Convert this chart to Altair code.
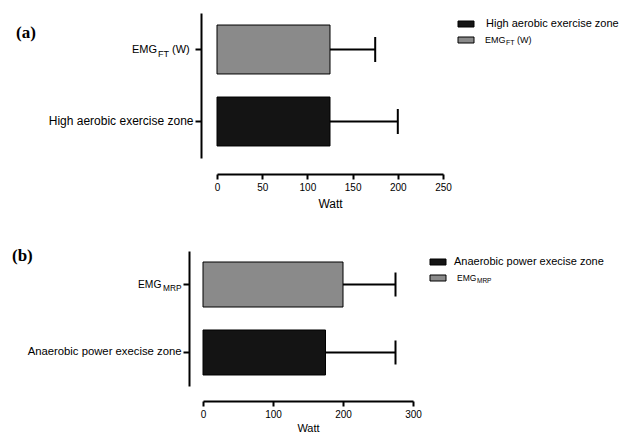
import altair as alt
import pandas as pd

# ---- data ----
a_cats = ["EMG_FT", "High aerobic exercise zone"]
a_means = [125, 125]
a_upper = [175, 200]
a_ticks = [0, 50, 100, 150, 200, 250]

b_cats = ["EMG_MRP", "Anaerobic power execise zone"]
b_means = [200, 175]
b_upper = [275, 275]
b_ticks = [0, 100, 200, 300]

fills = ["#8a8a8a", "#141414"]

SANS = "Liberation Sans"
SERIF = "Liberation Serif"

dfa = pd.DataFrame({"cat": a_cats, "mean": a_means, "upper": a_upper})
dfb = pd.DataFrame({"cat": b_cats, "mean": b_means, "upper": b_upper})


def one(txt):
    return pd.DataFrame({"t": [txt]})


def panel(df, cats, ticks, dom, rng, height, pin, pout, yoff, xoff, lab_fs, tick_fs,
          title_fs, title_pad, cap, sub_parts, letter, letter_x, letter_y, legend):
    yenc = alt.Y("cat:N", sort=cats,
                 scale=alt.Scale(domain=cats, paddingInner=pin, paddingOuter=pout),
                 axis=alt.Axis(title=None,
                               labelExpr=f"datum.value == '{cats[0]}' ? '' : datum.label",
                               domainWidth=2, domainColor="black", tickColor="black",
                               tickWidth=2, tickSize=6, offset=yoff, labelFontSize=lab_fs,
                               labelFont=SANS, labelColor="black", labelPadding=2))
    xscale = alt.Scale(domain=dom, range=rng, nice=False, zero=True)
    xenc = alt.X("mean:Q", scale=xscale,
                 axis=alt.Axis(values=ticks, title="Watt", offset=xoff, domainWidth=2,
                               domainColor="black", tickColor="black", tickWidth=2,
                               tickSize=5, labelFontSize=tick_fs, labelFont=SANS,
                               labelColor="black", labelPadding=3, titleFont=SANS,
                               titleFontSize=title_fs, titleFontWeight="normal",
                               titleColor="black", titlePadding=title_pad, grid=False,
                               labelFlush=False))
    base = alt.Chart(df)
    bars = base.mark_bar(stroke="black", strokeWidth=1).encode(
        x=xenc, y=yenc,
        color=alt.Color("cat:N", scale=alt.Scale(domain=cats, range=fills), legend=None))
    err = base.mark_rule(strokeWidth=2, color="black").encode(
        x=alt.X("mean:Q", scale=xscale), x2="upper:Q", y=alt.Y("cat:N", sort=cats))
    caps = base.mark_tick(thickness=2, size=cap, color="black", opacity=1).encode(
        x=alt.X("upper:Q", scale=xscale), y=alt.Y("cat:N", sort=cats))

    layers = [bars, err, caps]
    # custom y label with subscript for first category
    lab = base.transform_filter(alt.datum.cat == cats[0])
    main_t, sub_t, tail_t, xm, xs, xt = sub_parts
    layers.append(lab.mark_text(align="left", baseline="middle", font=SANS,
                                fontSize=lab_fs - 1, color="black").encode(
        x=alt.value(xm), y=alt.Y("cat:N", sort=cats), text=alt.value(main_t)))
    layers.append(lab.mark_text(align="left", baseline="middle", font=SANS,
                                fontSize=lab_fs - 3, color="black", dy=4).encode(
        x=alt.value(xs), y=alt.Y("cat:N", sort=cats), text=alt.value(sub_t)))
    if tail_t:
        layers.append(lab.mark_text(align="left", baseline="middle", font=SANS,
                                    fontSize=lab_fs - 1, color="black").encode(
            x=alt.value(xt), y=alt.Y("cat:N", sort=cats), text=alt.value(tail_t)))
    # panel letter
    layers.append(alt.Chart(one(letter)).mark_text(
        align="left", baseline="middle", font=SERIF, fontWeight="bold", fontSize=17,
        color="black").encode(x=alt.value(letter_x), y=alt.value(letter_y), text="t:N"))
    # manual legend
    (lx, ly1, ly2, ltx, lfs, l1, l2m, l2s, l2tail, l2x, l2sx, l2tx, mfs, sfs) = legend
    for yy, col in ((ly1, fills[1]), (ly2, fills[0])):
        layers.append(alt.Chart(one("s")).mark_rect(stroke="black", strokeWidth=1,
                                                    fill=col).encode(
            x=alt.value(lx), x2=alt.value(lx + 16), y=alt.value(yy - 3),
            y2=alt.value(yy + 3)))
    layers.append(alt.Chart(one(l1)).mark_text(
        align="left", baseline="middle", font=SANS, fontSize=lfs, color="black").encode(
        x=alt.value(ltx), y=alt.value(ly1), text="t:N"))
    layers.append(alt.Chart(one(l2m)).mark_text(
        align="left", baseline="middle", font=SANS, fontSize=mfs, color="black").encode(
        x=alt.value(l2x), y=alt.value(ly2), text="t:N"))
    layers.append(alt.Chart(one(l2s)).mark_text(
        align="left", baseline="middle", font=SANS, fontSize=sfs, color="black",
        dy=3).encode(x=alt.value(l2sx), y=alt.value(ly2), text="t:N"))
    if l2tail:
        layers.append(alt.Chart(one(l2tail)).mark_text(
            align="left", baseline="middle", font=SANS, fontSize=mfs,
            color="black").encode(x=alt.value(l2tx), y=alt.value(ly2), text="t:N"))
    return alt.layer(*layers).properties(width=240, height=height)


pa = panel(dfa, a_cats, a_ticks, [0, 250], [14, 240], 145, 0.32, 0.167, 2, 16,
           12, 10, 12, 6, 25,
           ("EMG", "FT", "(W)", -71, -45, -31),
           "(a)", -187, 20,
           (255, 11, 27, 283, 11, "High aerobic exercise zone", "EMG", "FT", "(W)",
            282, 303, 314, 9, 7))

pb = panel(dfb, b_cats, b_ticks, [0, 300], [0, 210], 135, 0.338, 0.162, 14, 15,
           11.3, 10, 11, 3, 24,
           ("EMG", "MRP", "", -65, -40, 0),
           "(b)", -191, 5,
           (227, 11, 27, 251, 11, "Anaerobic power execise zone", "EMG", "MRP", "",
            254, 274, 0, 8.5, 6.5))

chart = alt.vconcat(pa, pb, spacing=93, bounds="flush").resolve_scale(
    color="independent", x="independent", y="independent"
).properties(
    padding={"left": 4, "top": 5, "right": 0, "bottom": 0}
).configure_view(stroke=None)

chart.save("out.html", embed_options={"renderer": "svg", "actions": False})
